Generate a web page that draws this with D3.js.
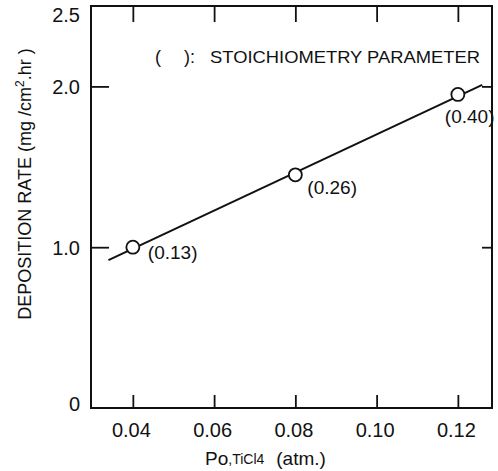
<!DOCTYPE html>
<html lang="en">
<head>
<meta charset="UTF-8">
<title>Deposition rate vs partial pressure</title>
<script src="https://cdn.jsdelivr.net/npm/d3@7"></script>
<style>
  body { margin: 0; background: #fff; }
  text { font-family: "Liberation Sans", Arial, sans-serif; fill: #111; }
</style>
</head>
<body>
<script>
// data
const xTicks = [0.04, 0.06, 0.08, 0.10, 0.12];
const xTickLabels = ["0.04", "0.06", "0.08", "0.10", "0.12"];
const yTicks = [0, 1.0, 2.0, 2.5];
const yTickLabels = ["0", "1.0", "2.0", "2.5"];
const yTickMarks = [1.0, 2.0];

const pressure = [0.04, 0.08, 0.12];
const rate = [1.00, 1.45, 1.95];
const stoich = ["(0.13)", "(0.26)", "(0.40)"];

// fitted straight line (end points)
const fitX = [0.034, 0.126];
const fitY = [0.92, 2.01];

const W = 498, H = 471;
const svg = d3.select("body").append("svg")
  .attr("width", W).attr("height", H);

const x = d3.scaleLinear().domain([0.0297, 0.1284]).range([91, 492]);
const y = d3.scaleLinear().domain([0, 2.5]).range([408, 6]);

const ink = "#111";

// frame
svg.append("rect")
  .attr("x", x.range()[0]).attr("y", y.range()[1])
  .attr("width", x.range()[1] - x.range()[0])
  .attr("height", y.range()[0] - y.range()[1])
  .attr("fill", "none").attr("stroke", ink).attr("stroke-width", 2);

// bottom axis (ticks pointing in)
const gx = svg.append("g")
  .attr("transform", "translate(0," + y(0) + ")")
  .call(d3.axisBottom(x).tickValues(xTicks)
    .tickSize(-13).tickPadding(24)
    .tickFormat((d, i) => xTickLabels[i]));
gx.select(".domain").remove();
gx.selectAll("line").attr("stroke", ink).attr("stroke-width", 1.8);
gx.selectAll("text").attr("font-size", 20).attr("dy", "0.25em").attr("dx", -2);

// top ticks
const gt = svg.append("g")
  .attr("transform", "translate(0," + y(2.5) + ")")
  .call(d3.axisTop(x).tickValues(xTicks).tickSize(-16).tickFormat(""));
gt.select(".domain").remove();
gt.selectAll("line").attr("stroke", ink).attr("stroke-width", 1.8);

// left axis
const gy = svg.append("g")
  .attr("transform", "translate(" + x.range()[0] + ",0)")
  .call(d3.axisLeft(y).tickValues(yTicks).tickSize(0).tickPadding(11)
    .tickFormat((d, i) => yTickLabels[i]));
gy.select(".domain").remove();
gy.selectAll("text").attr("font-size", 20)
  .attr("dy", d => d === 2.5 ? "0.75em" : d === 0 ? "0.1em" : "0.35em");

const gyl = svg.append("g")
  .attr("transform", "translate(" + x.range()[0] + ",0)")
  .call(d3.axisRight(y).tickValues(yTickMarks).tickSize(18).tickFormat(""));
gyl.select(".domain").remove();
gyl.selectAll("line").attr("stroke", ink).attr("stroke-width", 1.8);

// right ticks
const gr = svg.append("g")
  .attr("transform", "translate(" + x.range()[1] + ",0)")
  .call(d3.axisLeft(y).tickValues(yTickMarks).tickSize(10).tickFormat(""));
gr.select(".domain").remove();
gr.selectAll("line").attr("stroke", ink).attr("stroke-width", 1.8);

// fitted line
const line = d3.line().x(d => x(d[0])).y(d => y(d[1]));
svg.append("path")
  .datum(fitX.map((v, i) => [v, fitY[i]]))
  .attr("d", line)
  .attr("fill", "none").attr("stroke", ink).attr("stroke-width", 2);

// points
const pts = pressure.map((p, i) => ({ p: p, r: rate[i], s: stoich[i] }));
svg.selectAll("circle.pt").data(pts).enter().append("circle")
  .attr("class", "pt")
  .attr("cx", d => x(d.p)).attr("cy", d => y(d.r)).attr("r", 6.5)
  .attr("fill", "#fff").attr("stroke", ink).attr("stroke-width", 1.8);

// stoichiometry labels, offset from each point
const labOff = [[15, 12], [12, 19], [-13, 29]];
svg.selectAll("text.st").data(pts).enter().append("text")
  .attr("class", "st")
  .attr("x", (d, i) => x(d.p) + labOff[i][0])
  .attr("y", (d, i) => y(d.r) + labOff[i][1])
  .attr("font-size", 19)
  .text(d => d.s);

// legend note
svg.append("text").attr("x", 155).attr("y", 63).attr("font-size", 18).text("(");
svg.append("text").attr("x", 184).attr("y", 63).attr("font-size", 18).text("):");
svg.append("text").attr("x", 210).attr("y", 63).attr("font-size", 17)
  .attr("textLength", 270).attr("lengthAdjust", "spacingAndGlyphs")
  .text("STOICHIOMETRY  PARAMETER");

// x title
const xt = svg.append("text").attr("x", 205).attr("y", 465).attr("font-size", 19);
xt.append("tspan").text("Po");
xt.append("tspan").attr("font-size", 14).attr("dy", -1).text(",TiCl4");
xt.append("tspan").attr("dy", 1).attr("dx", 12).text("(atm.)");

// y title
const yt = svg.append("text")
  .attr("transform", "translate(31,184) rotate(-90)")
  .attr("text-anchor", "middle").attr("font-size", 18);
yt.append("tspan").text("DEPOSITION RATE (mg /cm");
yt.append("tspan").attr("font-size", 12).attr("dy", -7).text("2");
yt.append("tspan").attr("dy", 7).text(".hr )");
</script>
</body>
</html>
